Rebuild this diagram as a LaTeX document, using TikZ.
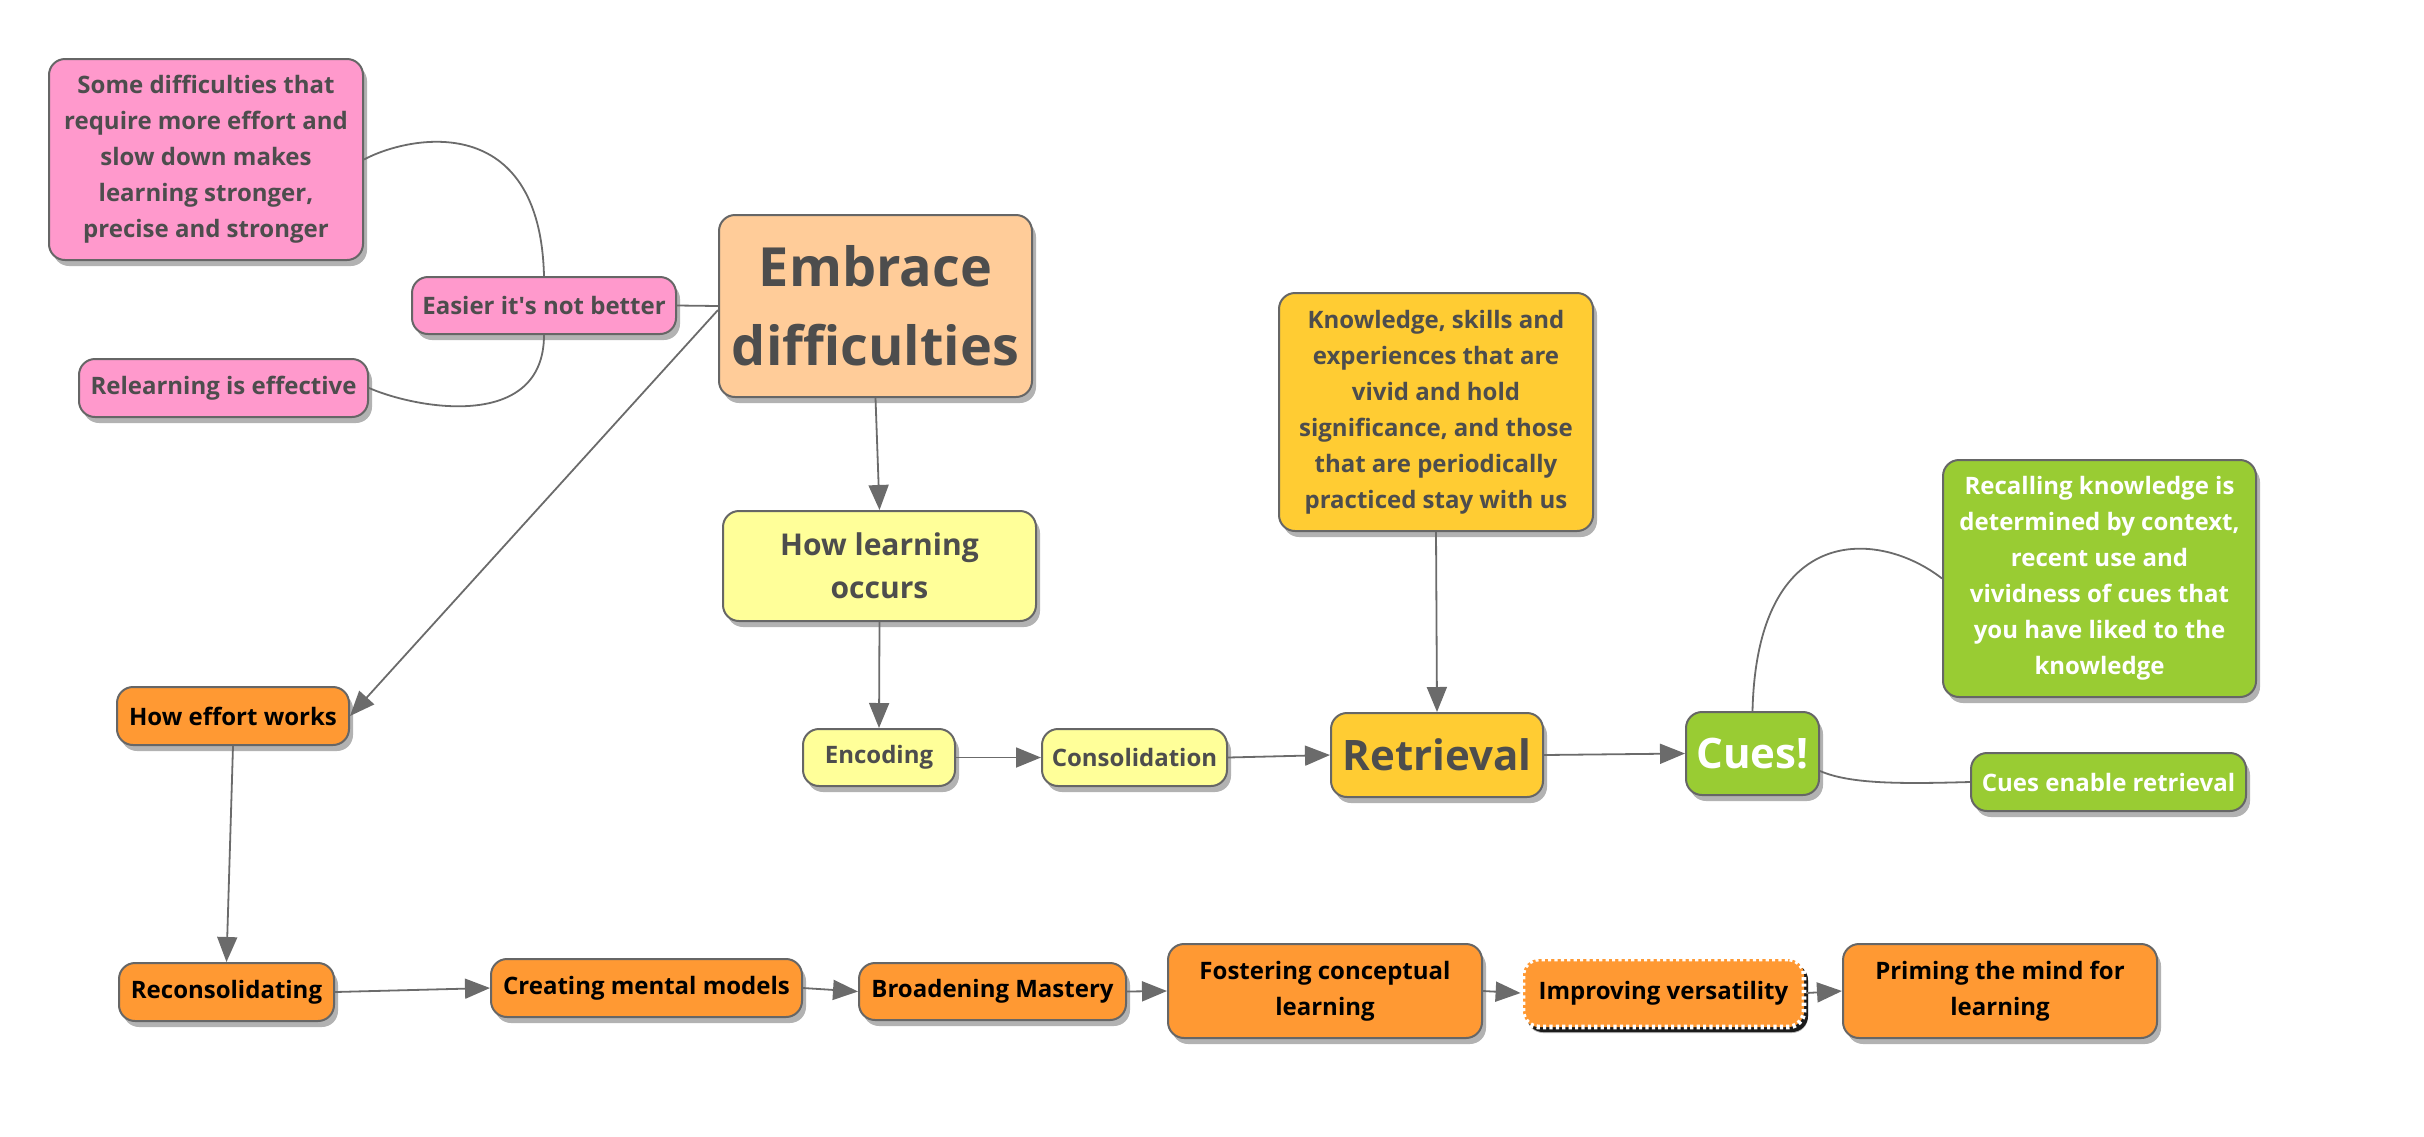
\documentclass[tikz,border=0pt]{standalone}
\usepackage{fontspec}
\setmainfont{Open Sans}
\usetikzlibrary{arrows.meta,shadows,calc}
\definecolor{pinkc}{HTML}{FF99CC}
\definecolor{peachc}{HTML}{FFCC99}
\definecolor{yellowc}{HTML}{FFFF99}
\definecolor{goldc}{HTML}{FFCC33}
\definecolor{greenc}{HTML}{99CC33}
\definecolor{orangec}{HTML}{FF9933}
\definecolor{bordc}{HTML}{666666}
\definecolor{linec}{HTML}{6B6B6B}
\definecolor{textc}{HTML}{4D4D4D}
\tikzset{
  base/.style={rounded corners=8pt, draw=bordc, line width=1pt, align=center, inner sep=0pt,
    font=\bfseries\fontsize{12}{18}\selectfont, text=textc,
    drop shadow={shadow xshift=2pt, shadow yshift=-3pt, opacity=0.3, fill=black}},
  pinkbox/.style={base, fill=pinkc},
  peachbox/.style={base, fill=peachc},
  yelbox/.style={base, fill=yellowc},
  goldbox/.style={base, fill=goldc},
  greenbox/.style={base, fill=greenc, text=white},
  orbox/.style={base, fill=orangec, text=black},
  conn/.style={draw=linec, line width=0.9pt},
  arr/.style={conn, -{Triangle[length=12.5pt,width=10pt]}},
}
\begin{document}
\begin{tikzpicture}[x=0.5pt,y=-0.5pt]
\useasboundingbox (0,0) rectangle (2424,1136);
% nodes
\node[pinkbox, minimum width=157pt, minimum height=100.5pt] (some) at (206,159.5)
  {Some difficulties that\\require more effort and\\slow down makes\\learning stronger,\\precise and stronger};
\node[pinkbox, minimum width=132pt, minimum height=28.5pt] (easier) at (544,305.5) {Easier it\textquotesingle s not better};
\node[pinkbox, minimum width=144.5pt, minimum height=29pt] (relearn) at (223.5,388) {Relearning is effective};
\node[peachbox, minimum width=156.5pt, minimum height=91pt, font=\bfseries\fontsize{27}{39.5}\selectfont] (embrace) at (875.5,306) {Embrace\\difficulties};
\node[yelbox, minimum width=156.5pt, minimum height=55pt, font=\bfseries\fontsize{15}{21.5}\selectfont] (howlearn) at (879.5,566) {How learning\\occurs};
\node[yelbox, minimum width=76pt, minimum height=28.5pt] (encoding) at (879,757.5) {Encoding};
\node[yelbox, minimum width=92.5pt, minimum height=28.5pt] (consol) at (1134.5,757.5) {Consolidation};
\node[goldbox, minimum width=106pt, minimum height=42pt, font=\bfseries\fontsize{21}{24}\selectfont] (retrieval) at (1437,755) {Retrieval};
\node[goldbox, minimum width=157pt, minimum height=119pt] (knowledge) at (1436,412)
  {Knowledge, skills and\\experiences that are\\vivid and hold\\significance, and those\\that are periodically\\practiced stay with us};
\node[greenbox, minimum width=66.5pt, minimum height=41.5pt, font=\bfseries\fontsize{21}{24}\selectfont] (cues) at (1752.5,753.5) {Cues!};
\node[greenbox, minimum width=156.5pt, minimum height=118.5pt] (recalling) at (2099.5,578.5)
  {Recalling knowledge is\\determined by context,\\recent use and\\vividness of cues that\\you have liked to the\\knowledge};
\node[greenbox, minimum width=137.5pt, minimum height=29pt] (cuesenable) at (2108.5,782) {Cues enable retrieval};
\node[orbox, minimum width=116pt, minimum height=29pt] (effort) at (233,716) {How effort works};
\node[orbox, minimum width=107.5pt, minimum height=29pt] (recons) at (226.5,992) {Reconsolidating};
\node[orbox, minimum width=155.5pt, minimum height=29pt] (creating) at (646.5,988) {Creating mental models};
\node[orbox, minimum width=133.5pt, minimum height=28.5pt] (broad) at (992.5,991.5) {Broadening Mastery};
\node[orbox, minimum width=157pt, minimum height=47pt] (foster) at (1325,991) {Fostering conceptual\\learning};
\node[orbox, draw=white, dash pattern=on 1.6pt off 1.6pt, line width=2.4pt, minimum width=140.5pt, minimum height=34pt,
  drop shadow={shadow xshift=2pt, shadow yshift=-2.5pt, opacity=0.85, fill=black}] (improv) at (1663.5,993) {Improving versatility};
\node[orbox, minimum width=157pt, minimum height=47pt] (priming) at (2000,991) {Priming the mind for\\learning};
% connectors
\draw[conn] (embrace.west) -- (easier.east);
\draw[conn] (easier.north) .. controls (540,110) and (410,135) .. (some.east);
\draw[conn] (easier.south) .. controls (544,430) and (420,410) .. (relearn.east);
\draw[arr] ($(embrace.west)+(0,4)$) -- (effort.east);
\draw[arr] (embrace.south) -- (howlearn.north);
\draw[arr] (howlearn.south) -- (encoding.north);
\draw[arr] (encoding.east) -- (consol.west);
\draw[arr] (consol.east) -- (retrieval.west);
\draw[arr] (knowledge.south) -- (retrieval.north);
\draw[arr] (retrieval.east) -- (cues.west);
\draw[conn] (cues.north) .. controls (1757,520) and (1880,530) .. (recalling.west);
\draw[conn] ($(cues.east)+(0,17.5)$) .. controls (1850,784) and (1900,784) .. (cuesenable.west);
\draw[arr] (effort.south) -- (recons.north);
\draw[arr] (recons.east) -- (creating.west);
\draw[arr] (creating.east) -- (broad.west);
\draw[arr] (broad.east) -- (foster.west);
\draw[arr] (foster.east) -- (improv.west);
\draw[arr] (improv.east) -- (priming.west);
\end{tikzpicture}
\end{document}
